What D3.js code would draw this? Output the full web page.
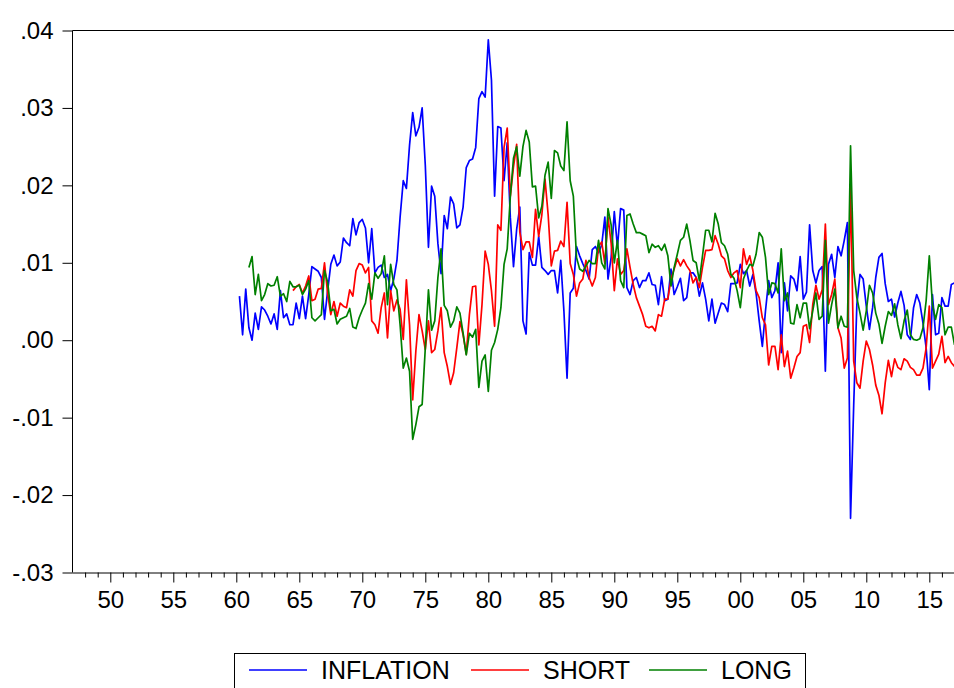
<!DOCTYPE html>
<html>
<head>
<meta charset="utf-8">
<style>
  body { margin: 0; background: #fff; }
  svg { display: block; font-family: "Liberation Sans", Arial, sans-serif; }
</style>
</head>
<body>
<div id="chart"></div>
<script src="https://d3js.org/d3.v7.min.js"></script>
<script>
// quarterly series, first observation date as a fractional year
var inflationStart = 1960.25;   // 1960Q2
var shortStart = 1964.5;        // 1964Q3
var longStart = 1961.0;         // 1961Q1

var inflation = [
  .0057,.0007,.0066,.0016,.0000,.0035,.0014,.0043,.0039,.0031,.0021,.0034,.0014,.0064,.0029,.0034,.0020,.0020,.0048,.0028,
  .0057,.0028,.0059,.0095,.0092,.0089,.0081,.0027,.0064,.0098,.0110,.0096,.0101,.0132,.0126,.0122,.0157,.0136,.0152,.0156,
  .0145,.0100,.0144,.0087,.0094,.0097,.0081,.0085,.0064,.0079,.0103,.0159,.0206,.0196,.0252,.0294,.0264,.0275,.0300,.0226,
  .0120,.0199,.0186,.0125,.0086,.0161,.0144,.0185,.0176,.0145,.0149,.0172,.0223,.0232,.0234,.0249,.0312,.0321,.0314,.0388,
  .0336,.0186,.0276,.0274,.0206,.0255,.0158,.0095,.0143,.0172,.0025,.0008,.0113,.0097,.0097,.0134,.0094,.0090,.0085,.0090,
  .0090,.0061,.0103,.0038,-.0049,.0061,.0067,.0121,.0109,.0099,.0090,.0079,.0117,.0121,.0113,.0123,.0159,.0079,.0107,.0166,
  .0120,.0170,.0168,.0068,.0059,.0077,.0081,.0068,.0077,.0077,.0087,.0072,.0071,.0046,.0082,.0051,.0053,.0092,.0059,.0069,
  .0080,.0051,.0055,.0087,.0087,.0081,.0057,.0074,.0053,.0025,.0053,.0022,.0035,.0048,.0046,.0037,.0073,.0073,.0074,.0098,
  .0086,.0090,.0070,.0085,.0061,.0025,-.0008,.0038,.0077,.0055,.0064,.0100,-.0016,.0074,.0038,.0083,.0079,.0064,.0108,.0053,
  .0062,.0149,.0090,.0074,.0090,.0095,-.0040,.0098,.0111,.0081,.0121,.0109,.0129,.0152,-.0230,-.0084,.0046,.0085,.0079,.0044,
  .0014,.0042,.0081,.0107,.0112,.0073,.0050,.0053,.0030,.0048,.0063,.0045,.0007,.0001,.0042,.0059,.0048,.0022,-.0010,-.0064,
  .0059,.0007,.0009,.0055,.0044,.0044,.0072,.0074
];

var short = [
  .0064,.0069,.0072,.0061,.0070,.0083,.0051,.0053,.0066,.0067,.0100,.0060,.0033,.0050,.0031,.0048,.0044,.0042,.0065,.0057,
  .0090,.0099,.0097,.0087,.0094,.0025,.0020,.0009,.0042,.0061,.0003,.0064,.0038,.0052,.0040,.0001,.0078,.0020,-.0077,-.0014,
  .0033,.0012,-.0012,.0025,-.0016,-.0012,.0012,.0042,-.0016,-.0034,-.0057,-.0042,-.0010,.0024,.0007,-.0018,.0033,.0069,.0070,-.0006,
  .0046,.0115,.0098,.0064,.0018,.0149,.0142,.0249,.0274,.0186,.0224,.0253,.0140,.0117,.0127,.0127,.0107,.0169,.0134,.0162,
  .0208,.0162,.0096,.0115,.0116,.0128,.0121,.0178,.0099,.0085,.0057,.0074,.0079,.0103,.0081,.0070,.0081,.0121,.0127,.0099,
  .0159,.0125,.0064,.0105,.0085,.0090,.0118,.0094,.0072,.0055,.0044,.0033,.0018,.0016,.0018,.0012,.0033,.0031,.0053,.0053,
  .0079,.0092,.0105,.0096,.0104,.0096,.0090,.0074,.0081,.0068,.0094,.0116,.0116,.0117,.0135,.0124,.0109,.0105,.0090,.0081,
  .0087,.0090,.0068,.0118,.0098,.0109,.0090,.0064,.0055,.0029,.0020,-.0032,-.0008,-.0008,-.0038,.0007,-.0034,-.0014,-.0049,-.0036,
  -.0021,-.0016,.0018,.0020,-.0003,.0046,.0071,.0053,.0065,.0150,.0046,.0059,.0079,.0016,.0003,-.0036,-.0023,.0200,-.0027,-.0055,
  -.0062,-.0027,-.0001,-.0012,-.0032,-.0058,-.0071,-.0095,-.0055,-.0026,-.0047,-.0024,-.0035,-.0038,-.0024,-.0027,-.0035,-.0038,-.0045,-.0045,
  -.0036,-.0010,.0044,-.0036,-.0027,-.0018,.0005,-.0029,-.0021,-.0029,-.0034
];

var long = [
  .0094,.0108,.0059,.0085,.0051,.0059,.0073,.0070,.0071,.0082,.0057,.0060,.0050,.0076,.0069,.0069,.0071,.0059,.0066,.0077,
  .0029,.0025,.0029,.0033,.0090,.0075,.0038,.0040,.0021,.0027,.0029,.0031,.0041,.0017,.0015,.0029,.0039,.0048,.0073,.0053,
  .0087,.0080,.0086,.0109,.0046,.0098,.0072,.0065,.0020,-.0036,-.0023,-.0040,-.0128,-.0109,-.0086,-.0083,-.0010,.0065,.0013,.0025,
  .0081,.0118,.0045,.0038,.0017,.0025,.0043,.0035,.0009,-.0019,.0009,.0004,.0014,-.0061,-.0027,-.0019,-.0066,-.0013,-.0003,.0014,
  .0042,.0098,.0118,.0186,.0235,.0250,.0212,.0250,.0271,.0256,.0198,.0199,.0158,.0173,.0213,.0230,.0183,.0245,.0242,.0225,
  .0219,.0282,.0206,.0186,.0107,.0092,.0089,.0096,.0103,.0099,.0099,.0129,.0100,.0092,.0170,.0149,.0100,.0129,.0077,.0068,
  .0161,.0163,.0150,.0139,.0139,.0137,.0135,.0113,.0124,.0120,.0122,.0116,.0124,.0109,.0070,.0094,.0111,.0129,.0133,.0150,
  .0129,.0103,.0100,.0077,.0109,.0142,.0142,.0127,.0164,.0150,.0126,.0122,.0111,.0085,.0080,.0064,.0042,.0079,.0090,.0098,
  .0096,.0111,.0139,.0133,.0107,.0059,.0074,.0073,.0061,.0118,.0051,.0061,.0022,.0021,.0046,.0029,.0048,.0048,.0015,.0038,
  .0061,.0027,.0031,.0129,.0022,.0046,.0066,.0016,.0031,.0018,.0017,.0251,.0090,.0055,.0035,.0013,.0038,.0071,.0061,.0035,
  .0021,-.0004,.0018,.0037,.0032,.0047,.0020,.0002,.0025,.0039,.0007,.0001,.0000,.0002,.0016,.0051,.0109,.0046,.0027,.0046,
  .0042,.0007,.0017,.0017,-.0006
];

var yTicks = [-.03, -.02, -.01, .00, .01, .02, .03, .04];
var xLabelYears = d3.range(1950, 2016, 5);
var names = ["INFLATION", "SHORT", "LONG"];
var colors = ["#0000ff", "#ff0000", "#008000"];

// layout
var W = 954, H = 688;
var margin = {top: 30.5, left: 72.5};
var width = 882, height = 542;
var fsize = 24;

var svg = d3.select("#chart").append("svg")
    .attr("width", W)
    .attr("height", H);

var g = svg.append("g")
    .attr("transform", "translate(" + margin.left + "," + margin.top + ")");

var x = d3.scaleLinear().domain([1947, 2017]).range([0, width]);
var y = d3.scaleLinear().domain([-0.03, 0.04]).range([height, 0]);

function toPoints(vals, start) {
  return vals.map(function(v, i) { return {t: start + i / 4, v: v}; });
}
var series = [
  toPoints(inflation, inflationStart),
  toPoints(short, shortStart),
  toPoints(long, longStart)
];

svg.append("clipPath").attr("id", "plotclip")
  .append("rect").attr("x", 0).attr("y", 0).attr("width", width).attr("height", height);

// frame (right side falls outside the picture)
g.append("path")
    .attr("d", "M0," + height + "V0H" + (width + 2))
    .attr("fill", "none")
    .attr("stroke", "#000")
    .attr("stroke-width", 1);

// y axis, eviews style labels: .04, -.01
var yAxis = g.append("g")
    .style("font-family", "'Liberation Sans', Arial, sans-serif")
    .style("font-size", fsize + "px")
    .call(d3.axisLeft(y).tickValues(yTicks).tickSize(10).tickPadding(9)
      .tickFormat(function(d) { return d.toFixed(2).replace("0.", "."); }));
yAxis.select(".domain").remove();
yAxis.selectAll("text").attr("fill", "#000");

// x axis: minor ticks every year, labelled ticks every 5 years
var xAxis = g.append("g")
    .attr("transform", "translate(0," + height + ")")
    .style("font-family", "'Liberation Sans', Arial, sans-serif")
    .style("font-size", fsize + "px")
    .call(d3.axisBottom(x).tickValues(xLabelYears).tickSize(10).tickPadding(8)
      .tickFormat(function(d) { return String(d % 100).padStart(2, "0"); }));
xAxis.select(".domain").attr("d", "M0,0.5H" + (width + 2));
xAxis.selectAll("text").attr("fill", "#000");

xAxis.selectAll(".minor")
    .data(d3.range(1948, 2017).filter(function(d) { return d % 5 != 0; }))
    .enter().append("line")
      .attr("class", "minor")
      .attr("x1", function(d) { return x(d) + 0.5; })
      .attr("x2", function(d) { return x(d) + 0.5; })
      .attr("y1", 0)
      .attr("y2", 5)
      .attr("stroke", "#000");

// lines
var line = d3.line()
    .x(function(d) { return x(d.t); })
    .y(function(d) { return y(d.v); });

g.append("g")
    .attr("clip-path", "url(#plotclip)")
  .selectAll("path")
  .data(series)
  .enter().append("path")
    .attr("fill", "none")
    .attr("stroke", function(d, i) { return colors[i]; })
    .attr("stroke-width", 1.7)
    .attr("stroke-linejoin", "round")
    .attr("d", line);

// legend
var legendX = [249, 471, 649];
var legend = svg.append("g")
    .style("font-family", "'Liberation Sans', Arial, sans-serif")
    .style("font-size", "25px");

legend.append("rect")
    .attr("x", 234.5)
    .attr("y", 653.5)
    .attr("width", 571)
    .attr("height", 45)
    .attr("fill", "none")
    .attr("stroke", "#000");

var item = legend.selectAll(".item")
    .data(names)
    .enter().append("g")
      .attr("class", "item")
      .attr("transform", function(d, i) { return "translate(" + legendX[i] + ",0)"; });

item.append("line")
    .attr("x1", 0).attr("x2", 58)
    .attr("y1", 670).attr("y2", 670)
    .attr("stroke", function(d, i) { return colors[i]; })
    .attr("stroke-width", 1.7);

item.append("text")
    .attr("x", 72)
    .attr("y", 679)
    .attr("fill", "#000")
    .text(function(d) { return d; });
</script>
</body>
</html>
